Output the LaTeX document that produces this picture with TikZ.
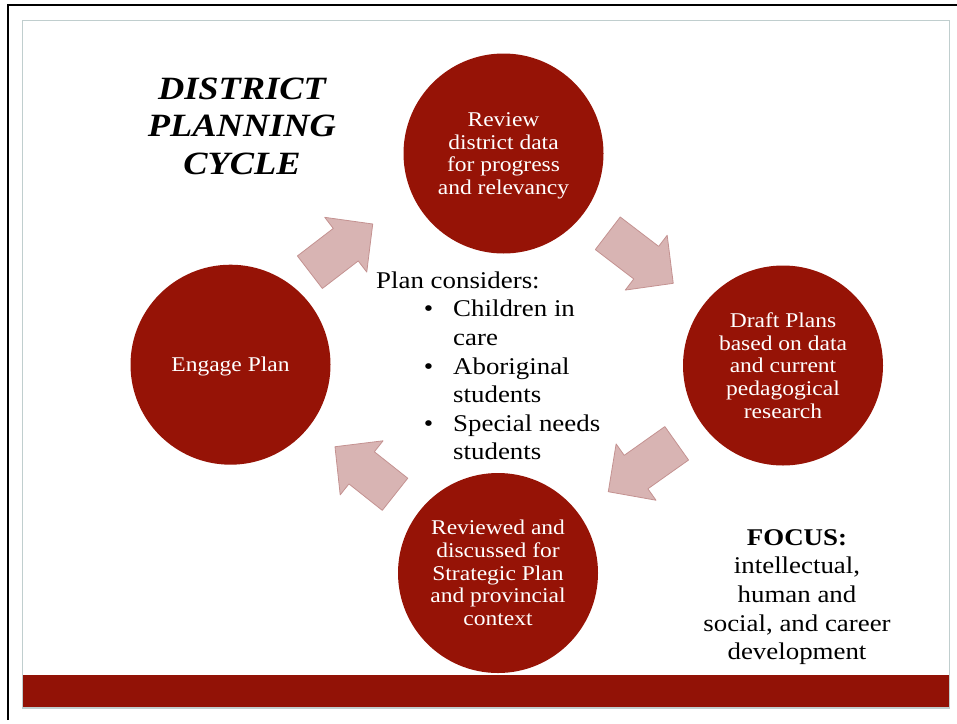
\documentclass[tikz,border=0pt]{standalone}
\usepackage{fontspec}
\setmainfont{Liberation Serif}[FakeStretch=1.12]
\definecolor{cycleRed}{RGB}{150,19,6}
\definecolor{barRed}{RGB}{146,18,6}
\definecolor{arrowPink}{RGB}{216,180,179}
\definecolor{arrowEdge}{RGB}{196,146,145}
\definecolor{frameGray}{RGB}{192,206,206}
\begin{document}
\begin{tikzpicture}[x=1pt,y=-1pt,
  stage/.style={circle,fill=cycleRed,minimum size=200pt,inner sep=0pt,text depth=0pt,text=white,align=center,font=\fontsize{21}{22.7}\selectfont},
  cyclearrow/.style={fill=arrowPink,draw=arrowEdge,line width=0.8pt,line join=round},
  bodytext/.style={inner sep=0pt,font=\fontsize{24}{28.6}\selectfont}]
\useasboundingbox (0,0) rectangle (957,723);
\draw[line width=2pt] (7.5,720) -- (7.5,5) -- (957,5);
\fill[barRed] (22,675) rectangle (949,708);
\draw[frameGray,line width=1.5pt] (22.5,20.7) rectangle (949.3,708);
\node[stage] (review) at (503.5,153.5) {Review\\district data\\for progress\\and relevancy};
\node[stage] (draft) at (783,365.5) {Draft Plans\\based on data\\and current\\pedagogical\\research};
\node[stage] (reviewed) at (498,573) {Reviewed and\\discussed for\\Strategic Plan\\and provincial\\context};
\node[stage] (engage) at (230.5,364.7) {Engage Plan};
\foreach \cx/\cy/\ang/\h in {341.3/248.1/37.5/39.6, 640.5/258.3/-37.4/41.2, 642.5/467.5/-144.7/41.9, 365/470.5/141.6/38.3}
  \draw[cyclearrow,shift={(\cx,\cy)},rotate=\ang] (-\h,-20.5) -- ({\h-34},-20.5) -- ({\h-34},-34.5) -- (\h,0) -- ({\h-34},34.5) -- ({\h-34},20.5) -- (-\h,20.5) -- cycle;
\node[align=center,inner sep=0pt,font=\fontsize{32.5}{37.5}\selectfont\bfseries\itshape] (title) at (242,126) {DISTRICT\\PLANNING\\CYCLE};
\node[bodytext,align=left,anchor=north west] (considers) at (376,271.5) {Plan considers:\\
\hspace*{77pt}\llap{\textbullet\hspace{20pt}}Children in\\
\hspace*{77pt}care\\
\hspace*{77pt}\llap{\textbullet\hspace{20pt}}Aboriginal\\
\hspace*{77pt}students\\
\hspace*{77pt}\llap{\textbullet\hspace{20pt}}Special needs\\
\hspace*{77pt}students};
\node[bodytext,align=center] (focus) at (797,597) {\textbf{FOCUS:}\\intellectual,\\human and\\social, and career\\development};
\end{tikzpicture}
\end{document}
